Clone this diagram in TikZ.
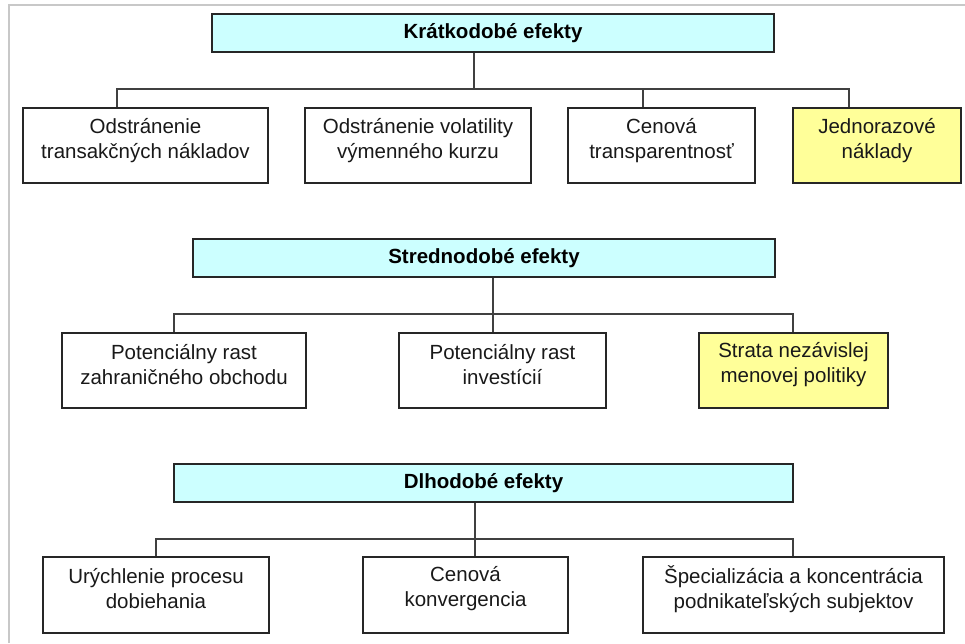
\documentclass[tikz,border=0pt]{standalone}
\usepackage{fontspec}
\setmainfont{Liberation Sans}
\definecolor{headc}{HTML}{CCFFFF}
\definecolor{yelc}{HTML}{FFFF99}
\definecolor{framec}{HTML}{C8C8C8}
\begin{document}
\begin{tikzpicture}[x=1pt,y=-1pt,
  box/.style={draw=black!85, line width=1.4pt, rectangle, inner sep=0pt},
  head/.style={box, fill=headc, minimum height=38pt, font=\fontsize{20.5}{25}\selectfont\bfseries},
  leaf/.style={box, fill=white, minimum height=75pt},
  yel/.style={leaf, fill=yelc},
  txt/.style={align=center, font=\fontsize{20.5}{25}\selectfont, inner sep=0pt, text=black!90},
  conn/.style={draw=black!75, line width=1.4pt}]
\useasboundingbox (0,0) rectangle (965,643);
% frame
\draw[framec, line width=1.5pt] (9,643) -- (9,5) -- (965,5);

% ---------- Row 1 ----------
\node[head, minimum width=562pt] (h1) at (493,33) {Krátkodobé efekty};
\node[leaf, minimum width=245pt] (b11) at (145.5,145.5) {};
\node[leaf, minimum width=226pt] (b12) at (418,145.5) {};
\node[leaf, minimum width=187pt] (b13) at (661.5,145.5) {};
\node[yel,  minimum width=168pt] (b14) at (877,145.5) {};
\node[txt] (t11) at ([yshift=5pt]b11.center) {Odstránenie\\transakčných nákladov};
\node[txt] (t12) at ([yshift=5pt]b12.center) {Odstránenie volatility\\výmenného kurzu};
\node[txt] (t13) at ([yshift=5pt]b13.center) {Cenová\\transparentnosť};
\node[txt] (t14) at ([yshift=5pt]b14.center) {Jednorazové\\náklady};
\coordinate (j1) at (474,89);
\coordinate (v11) at (117,0);
\coordinate (v13) at (643,0);
\coordinate (v14) at (849,0);
\draw[conn] (h1.south -| j1) -- (j1);
\draw[conn] (b11.north -| v11) -- (v11 |- j1) -- (v14 |- j1) -- (b14.north -| v14);
\draw[conn] (v13 |- j1) -- (b13.north -| v13);

% ---------- Row 2 ----------
\node[head, minimum width=582pt] (h2) at (484,258) {Strednodobé efekty};
\node[leaf, minimum width=244pt] (b21) at (184,370.5) {};
\node[leaf, minimum width=207pt] (b22) at (502.5,370.5) {};
\node[yel,  minimum width=189pt] (b23) at (793.5,370.5) {};
\node[txt] (t21) at ([yshift=6pt]b21.center) {Potenciálny rast\\zahraničného obchodu};
\node[txt] (t22) at ([yshift=6pt]b22.center) {Potenciálny rast\\investícií};
\node[txt] (t23) at ([yshift=6pt]b23.center) {Strata nezávislej\\menovej politiky};
\coordinate (j2) at (493,314);
\coordinate (v21) at (174,0);
\coordinate (v23) at (793,0);
\draw[conn] (h2.south -| j2) -- (b22.north -| j2);
\draw[conn] (b21.north -| v21) -- (v21 |- j2) -- (v23 |- j2) -- (b23.north -| v23);

% ---------- Row 3 ----------
\node[head, minimum width=619pt] (h3) at (483.5,483) {Dlhodobé efekty};
\node[leaf, minimum width=226pt, minimum height=76pt] (b31) at (156,595) {};
\node[leaf, minimum width=205pt, minimum height=76pt] (b32) at (465.5,595) {};
\node[leaf, minimum width=301pt, minimum height=76pt] (b33) at (793.5,595) {};
\node[txt] (t31) at ([yshift=6pt]b31.center) {Urýchlenie procesu\\dobiehania};
\node[txt] (t32) at ([yshift=6pt]b32.center) {Cenová\\konvergencia};
\node[txt] (t33) at ([yshift=6pt]b33.center) {Špecializácia a koncentrácia\\podnikateľských subjektov};
\coordinate (j3) at (475,539);
\coordinate (v31) at (156,0);
\coordinate (v33) at (793,0);
\draw[conn] (h3.south -| j3) -- (b32.north -| j3);
\draw[conn] (b31.north -| v31) -- (v31 |- j3) -- (v33 |- j3) -- (b33.north -| v33);
\end{tikzpicture}
\end{document}
